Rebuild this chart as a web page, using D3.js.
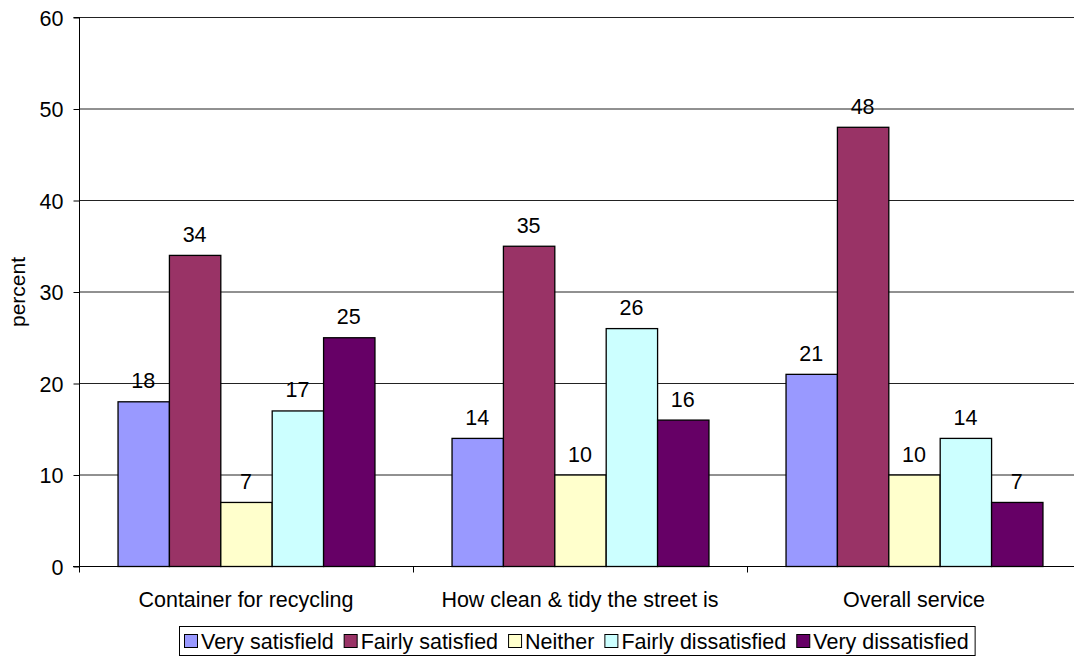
<!DOCTYPE html>
<html><head><meta charset="utf-8">
<script src="https://cdn.jsdelivr.net/npm/d3@7"></script>
<style>body{margin:0;background:#fff;}svg{display:block;font-family:Arial,"Liberation Sans",sans-serif;}</style>
</head><body>
<svg id="c" width="1074" height="657"></svg>
<script>
const categories = ["Container for recycling", "How clean & tidy the street is", "Overall service"];
const seriesNames = ["Very satisfield", "Fairly satisfied", "Neither", "Fairly dissatisfied", "Very dissatisfied"];
const veryS = [18, 14, 21];
const fairlyS = [34, 35, 48];
const neither = [7, 10, 10];
const fairlyD = [17, 26, 14];
const veryD = [25, 16, 7];
const colors = ["#9999FF", "#993366", "#FFFFCC", "#CCFFFF", "#660066"];
const yTicks = [0, 10, 20, 30, 40, 50, 60];

const FS = 21.5;
const seriesValues = [veryS, fairlyS, neither, fairlyD, veryD];
const svg = d3.select("#c");
const L = 79, R = 1081, T = 17, B = 566;
const x = d3.scaleBand().domain(categories).range([L, R]).paddingInner(0).paddingOuter(0);
const x1 = d3.scaleBand().domain(d3.range(5)).range([0, x.bandwidth()]).paddingOuter(0.75).paddingInner(0);
const y = d3.scaleLinear().domain([0, 60]).range([B, T]);

// gridlines
svg.append("g").selectAll("line").data(yTicks.filter(d => d > 0)).join("line")
  .attr("x1", L).attr("x2", R).attr("y1", d => y(d) + 0.5).attr("y2", d => y(d) + 0.5)
  .attr("stroke", "#222").attr("stroke-width", 1);

// y axis
const yAxis = d3.axisLeft(y).tickValues(yTicks).tickSize(6).tickPadding(10).tickFormat(d3.format("d"));
const ga = svg.append("g").attr("transform", `translate(${L + 0.5},0.5)`).call(yAxis);
ga.select(".domain").attr("stroke", "#000").attr("d", `M-6,${y(60)}H0V${y(0)}H-6`);
ga.selectAll(".tick line").attr("stroke", "#000");
ga.selectAll("text").attr("font-size", FS).attr("fill", "#000").attr("font-family", "Arial, 'Liberation Sans', sans-serif").attr("dy", "0.36em");

// bars
const g = svg.append("g");
categories.forEach((c, ci) => {
  seriesValues.forEach((vals, si) => {
    const v = vals[ci];
    const bx = x(c) + x1(si);
    g.append("rect").attr("x", bx + 0.5).attr("y", y(v) + 0.5)
      .attr("width", x1.bandwidth()).attr("height", y(0) - y(v))
      .attr("fill", colors[si]).attr("stroke", "#000").attr("stroke-width", 1.3);
    g.append("text").attr("x", bx + x1.bandwidth() / 2).attr("y", y(v) - 13)
      .attr("text-anchor", "middle").attr("font-size", FS).attr("fill", "#000").text(v);
  });
});

// x axis
const gx = svg.append("g").attr("transform", `translate(0,${B + 0.5})`);
gx.append("line").attr("x1", L - 6).attr("x2", R).attr("stroke", "#000");
gx.selectAll("line.tk").data([L, x(categories[1]), x(categories[2]), R]).join("line").attr("class", "tk")
  .attr("x1", d => d + 0.5).attr("x2", d => d + 0.5).attr("y1", 0).attr("y2", 6).attr("stroke", "#000");
gx.selectAll("text.cl").data(categories).join("text").attr("class", "cl")
  .attr("x", d => x(d) + x.bandwidth() / 2).attr("y", 40)
  .attr("text-anchor", "middle").attr("font-size", FS).attr("fill", "#000").text(d => d);

// y label
svg.append("text").attr("transform", "translate(25,292) rotate(-90)")
  .attr("text-anchor", "middle").attr("font-size", 21).attr("fill", "#000").text("percent");

// legend
const lg = svg.append("g");
const box = lg.append("rect").attr("x", 179.5).attr("y", 626.5).attr("height", 29)
  .attr("fill", "#fff").attr("stroke", "#000");
let lx = 184;
seriesNames.forEach((n, i) => {
  lg.append("rect").attr("x", lx + 0.5).attr("y", 634.5).attr("width", 13).attr("height", 13)
    .attr("fill", colors[i]).attr("stroke", "#000");
  const t = lg.append("text").attr("x", lx + 17).attr("y", 649).attr("font-size", FS).attr("fill", "#000").text(n);
  lx += 17 + t.node().getComputedTextLength() + (i < seriesNames.length - 1 ? 10 : 0);
});
box.attr("width", lx + 6 - 179);
</script>
</body></html>
